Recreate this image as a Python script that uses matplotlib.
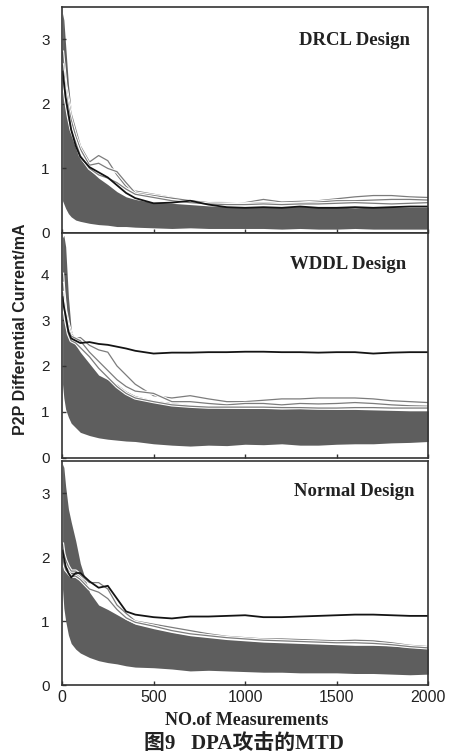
import matplotlib
matplotlib.use("Agg")
import matplotlib.pyplot as plt
import matplotlib.patheffects as pe

meas = [3, 10, 20, 35, 50, 75, 100, 150, 200, 250, 300, 350, 400, 500, 600,
        700, 800, 900, 1000, 1100, 1200, 1300, 1400, 1500, 1600, 1700, 1800,
        1900, 2000]

# DRCL design
drcl_band_hi = [3.4, 3.3, 2.9, 2.3, 1.9, 1.4, 1.15, 0.98, 0.85, 0.75, 0.64, 0.56, 0.52, 0.47, 0.46,
                0.44, 0.42, 0.41, 0.40, 0.41, 0.40, 0.41, 0.40, 0.40, 0.39, 0.40, 0.40, 0.40, 0.40]
drcl_band_lo = [0.5, 0.45, 0.38, 0.3, 0.25, 0.2, 0.18, 0.15, 0.13, 0.12, 0.1, 0.1, 0.09, 0.08, 0.07,
                0.08, 0.07, 0.07, 0.07, 0.07, 0.06, 0.07, 0.06, 0.06, 0.07, 0.06, 0.06, 0.06, 0.06]
drcl_key = [2.5, 2.35, 2.1, 1.85, 1.6, 1.35, 1.18, 1.02, 0.94, 0.86, 0.74, 0.62, 0.54, 0.46, 0.47,
            0.5, 0.44, 0.4, 0.39, 0.4, 0.39, 0.41, 0.39, 0.39, 0.4, 0.39, 0.4, 0.41, 0.41]
drcl_others = [
    [2.8, 2.6, 2.3, 2.05, 1.85, 1.6, 1.35, 1.1, 1.2, 1.12, 0.9, 0.72, 0.65, 0.6, 0.55,
     0.5, 0.48, 0.47, 0.47, 0.52, 0.48, 0.49, 0.5, 0.53, 0.56, 0.58, 0.58, 0.56, 0.55],
    [2.6, 2.45, 2.2, 1.95, 1.75, 1.5, 1.3, 1.05, 1.08, 1.0, 0.95, 0.78, 0.62, 0.58, 0.54,
     0.5, 0.47, 0.46, 0.45, 0.47, 0.45, 0.46, 0.48, 0.5, 0.5, 0.51, 0.52, 0.52, 0.51],
    [2.4, 2.3, 2.05, 1.8, 1.6, 1.4, 1.2, 1.0, 0.9, 0.85, 0.78, 0.68, 0.6, 0.55, 0.5,
     0.47, 0.45, 0.44, 0.44, 0.45, 0.44, 0.45, 0.45, 0.46, 0.47, 0.46, 0.45, 0.46, 0.47],
]

# WDDL design
wddl_band_hi = [4.8, 4.85, 4.6, 3.5, 2.8, 2.45, 2.3, 2.05, 1.8, 1.7, 1.6, 1.45, 1.35, 1.25, 1.2,
                1.15, 1.1, 1.08, 1.07, 1.07, 1.06, 1.07, 1.06, 1.05, 1.05, 1.04, 1.03, 1.02, 1.02]
wddl_band_lo = [1.6, 1.3, 1.05, 0.88, 0.75, 0.65, 0.55, 0.48, 0.43, 0.4, 0.38, 0.36, 0.35, 0.3, 0.27,
                0.25, 0.27, 0.26, 0.29, 0.28, 0.3, 0.27, 0.27, 0.29, 0.3, 0.3, 0.32, 0.33, 0.35]
wddl_key = [3.5, 3.3, 3.1, 2.75, 2.6, 2.55, 2.5, 2.52, 2.48, 2.46, 2.42, 2.38, 2.33, 2.27, 2.29,
            2.29, 2.3, 2.3, 2.31, 2.31, 2.3, 2.3, 2.29, 2.3, 2.3, 2.27, 2.29, 2.3, 2.3]
wddl_others = [
    [4.0, 3.6, 3.2, 2.9, 2.7, 2.6, 2.62, 2.45, 2.35, 2.3, 2.0, 1.8, 1.6, 1.35, 1.3,
     1.35, 1.28, 1.22, 1.22, 1.25, 1.28, 1.28, 1.3, 1.3, 1.3, 1.28, 1.24, 1.22, 1.2],
    [3.8, 3.5, 3.1, 2.8, 2.65, 2.6, 2.55, 2.3, 2.1, 1.9, 1.7, 1.55, 1.45, 1.4, 1.22,
     1.22, 1.18, 1.15, 1.18, 1.18, 1.15, 1.18, 1.17, 1.18, 1.2, 1.18, 1.15, 1.13, 1.12],
    [3.6, 3.3, 3.0, 2.7, 2.55, 2.5, 2.4, 2.2, 1.95, 1.75, 1.55, 1.4, 1.3, 1.22, 1.15,
     1.12, 1.1, 1.1, 1.1, 1.1, 1.09, 1.09, 1.08, 1.08, 1.09, 1.09, 1.08, 1.08, 1.08],
]

# Normal design
norm_band_hi = [3.45, 3.4, 3.1, 2.75, 2.55, 2.25, 1.9, 1.45, 1.25, 1.18, 1.1, 1.02, 0.95, 0.88, 0.82,
                0.77, 0.74, 0.71, 0.69, 0.67, 0.66, 0.65, 0.64, 0.63, 0.62, 0.62, 0.61, 0.59, 0.57]
norm_band_lo = [1.5, 1.2, 1.0, 0.78, 0.65, 0.56, 0.5, 0.43, 0.38, 0.35, 0.33, 0.3, 0.28, 0.27, 0.25,
                0.22, 0.23, 0.22, 0.21, 0.2, 0.2, 0.19, 0.19, 0.19, 0.18, 0.18, 0.17, 0.16, 0.17]
norm_key = [2.1, 2.0, 1.85, 1.75, 1.68, 1.75, 1.75, 1.62, 1.52, 1.55, 1.35, 1.15, 1.1, 1.06, 1.04,
            1.07, 1.07, 1.08, 1.09, 1.06, 1.06, 1.07, 1.08, 1.09, 1.1, 1.1, 1.09, 1.08, 1.08]
norm_others = [
    [2.2, 2.05, 1.95, 1.85, 1.78, 1.78, 1.72, 1.6, 1.6, 1.5, 1.25, 1.12, 1.0, 0.95, 0.9,
     0.85, 0.8, 0.76, 0.74, 0.72, 0.72, 0.71, 0.7, 0.69, 0.7, 0.69, 0.66, 0.62, 0.6],
    [2.0, 1.9, 1.8, 1.75, 1.7, 1.7, 1.65, 1.5, 1.45, 1.35, 1.18, 1.05, 0.98, 0.92, 0.85,
     0.8, 0.77, 0.74, 0.72, 0.7, 0.69, 0.68, 0.67, 0.66, 0.66, 0.65, 0.63, 0.6, 0.58],
]

titles = ["DRCL Design", "WDDL Design", "Normal Design"]
title_pos = [(0.95, 0.854), (0.94, 0.858), (0.962, 0.862)]
ylims = [3.5, 4.9, 3.5]
yticks = [[0, 1, 2, 3], [0, 1, 2, 3, 4], [0, 1, 2, 3]]
xticks = [0, 500, 1000, 1500, 2000]

panels = [
    (drcl_band_hi, drcl_band_lo, drcl_key, drcl_others),
    (wddl_band_hi, wddl_band_lo, wddl_key, wddl_others),
    (norm_band_hi, norm_band_lo, norm_key, norm_others),
]

fig = plt.figure(figsize=(4.56, 7.55), dpi=100)
boxes = [
    [0.136, 0.6914, 0.803, 0.2993],
    [0.136, 0.394, 0.803, 0.2973],
    [0.136, 0.0927, 0.803, 0.2967],
]

halo = [pe.Stroke(linewidth=2.4, foreground="white"), pe.Normal()]

for i, (hi, lo, key, others) in enumerate(panels):
    ax = fig.add_axes(boxes[i])
    ax.fill_between(meas, lo, hi, color="#5e5e5e", linewidth=0)
    for tr in others:
        ax.plot(meas, tr, color="#7c7c7c", lw=0.9, path_effects=halo)
    ax.plot(meas, key, color="#141414", lw=1.3)

    ax.set_xlim(0, 2000)
    ax.set_ylim(0, ylims[i])
    ax.set_xticks(xticks)
    ax.set_yticks(yticks[i])
    ax.tick_params(direction="in", length=3, width=1, colors="#333333", labelcolor="#222222")
    ax.tick_params(axis="y", pad=9)
    for lab in ax.get_yticklabels():
        lab.set_fontfamily("Liberation Sans")
        lab.set_fontsize(11)
    if i < 2:
        ax.set_xticklabels([])
    else:
        for lab in ax.get_xticklabels():
            lab.set_fontfamily("Liberation Sans")
            lab.set_fontsize(11.5)
    for sp in ax.spines.values():
        sp.set_linewidth(1.2)
        sp.set_color("#333333")
    tx, ty = title_pos[i]
    ax.text(tx, ty, titles[i], transform=ax.transAxes, ha="right", va="center",
            fontfamily="Liberation Serif", fontweight="bold", fontsize=13.5, color="#222222")

fig.text(0.046, 0.564, "P2P Differential Current/mA", rotation=90, ha="center", va="center",
         fontfamily="Liberation Sans", fontweight="bold", fontsize=11.5, color="#222222")
fig.text(0.54, 0.046, "NO.of Measurements", ha="center", va="center",
         fontfamily="Liberation Serif", fontweight="bold", fontsize=13, color="#222222")
fig.text(0.535, 0.014, "图9   DPA攻击的MTD", ha="center", va="center",
         family=["Liberation Serif", "Noto Sans CJK SC"], fontweight="bold", fontsize=15,
         color="#222222")

fig.savefig("out.png", dpi=100)
